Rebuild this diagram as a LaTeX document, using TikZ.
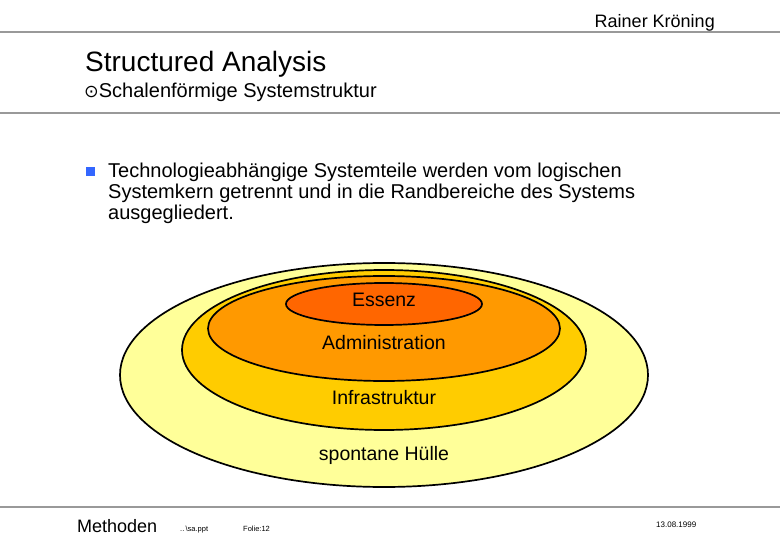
\documentclass[tikz,border=0pt]{standalone}
\usepackage{fontspec}
\setmainfont{Liberation Sans}
\newfontfamily\symfont{DejaVu Sans}
\usetikzlibrary{shapes.geometric}
\definecolor{rulegray}{HTML}{999999}
\definecolor{huellecol}{HTML}{FFFF99}
\definecolor{infracol}{HTML}{FFCC00}
\definecolor{admincol}{HTML}{FF9900}
\definecolor{essenzcol}{HTML}{FF6600}
\definecolor{bulletblue}{HTML}{3366FF}
\newcommand{\fs}[1]{\fontsize{#1}{#1}\selectfont}
\begin{document}
\begin{tikzpicture}[x=1pt,y=-1pt,
  txt/.style={inner sep=0pt, anchor=base west},
  txtr/.style={inner sep=0pt, anchor=base east},
  lbl/.style={inner sep=0pt, anchor=base, font=\fs{19.5}},
  layer/.style={ellipse, draw=black, line width=1.7pt, inner sep=0pt},
  rulestyle/.style={draw=rulegray, line width=2pt}]
\useasboundingbox (0,0) rectangle (780,540);
\fill[white] (0,0) rectangle (780,540);

% rules
\coordinate (r1a) at (0,32);   \coordinate (r1b) at (780,32);
\coordinate (r2a) at (0,113);  \coordinate (r2b) at (780,113);
\coordinate (r3a) at (0,507);  \coordinate (r3b) at (780,507);
\draw[rulestyle] (r1a) -- (r1b);
\draw[rulestyle] (r2a) -- (r2b);
\draw[rulestyle] (r3a) -- (r3b);

% header
\node[txtr, font=\fs{18}] (author) at (715,27.5) {Rainer Kröning};
\node[txt, font=\fs{28}] (title) at (85,72) {Structured Analysis};
\node[txt, font=\fs{20}] (subtitle) at (84,98) {{\symfont\fs{17.5}⊙}Schalenförmige Systemstruktur};

% bullet text
\node[fill=bulletblue, minimum size=9pt, inner sep=0pt] (bullet) at (90.5,171.5) {};
\node[txt, font=\fs{20}] (line1) at (108,178) {Technologieabhängige Systemteile werden vom logischen};
\node[txt, font=\fs{20}] (line2) at (108,199) {Systemkern getrennt und in die Randbereiche des Systems};
\node[txt, font=\fs{20}] (line3) at (108,220) {ausgegliedert.};

% layers
\node[layer, fill=huellecol, minimum width=528pt, minimum height=224pt] (huelle) at (384,375) {};
\node[layer, fill=infracol, minimum width=404pt, minimum height=160pt] (infra) at (384,350) {};
\node[layer, fill=admincol, minimum width=352pt, minimum height=105pt] (admin) at (384,328.5) {};
\node[layer, fill=essenzcol, minimum width=196pt, minimum height=42pt] (essenz) at (384,304) {};

\node[lbl] (essenzlbl) at (384,307) {Essenz};
\node[lbl] (adminlbl) at (384,349) {Administration};
\node[lbl] (infralbl) at (384,405) {Infrastruktur};
\node[lbl] (huellelbl) at (384,460) {spontane Hülle};

% footer
\node[txt, font=\fs{18}] (methoden) at (77,532.5) {Methoden};
\node[txt, font=\fs{7.5}] (file) at (180,531) {..\,\textbackslash sa.ppt};
\node[txt, font=\fs{7.5}] (folie) at (243,531) {Folie:12};
\node[txt, font=\fs{8}] (date) at (656,527) {13.08.1999};
\end{tikzpicture}
\end{document}
